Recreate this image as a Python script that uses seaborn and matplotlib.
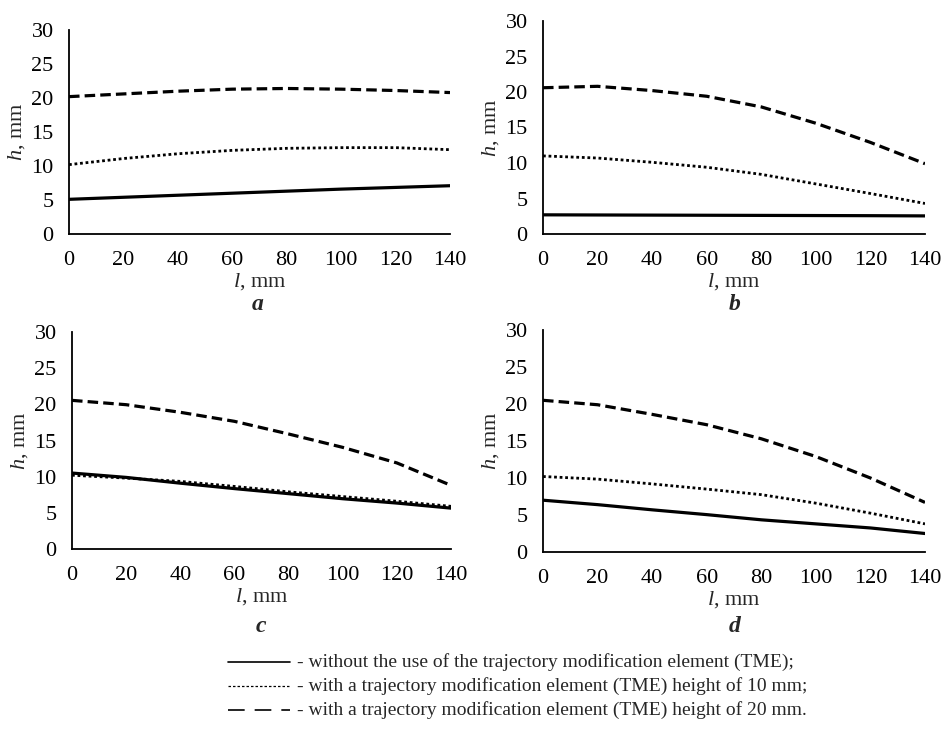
import matplotlib
matplotlib.use("Agg")
import matplotlib.pyplot as plt
from matplotlib.lines import Line2D
import pandas as pd
import seaborn as sns

# Datos (l en mm, h en mm)
l_mm = [0, 20, 40, 60, 80, 100, 120, 140]

a_sin_tme = [5.1, 5.4, 5.7, 6.0, 6.3, 6.6, 6.85, 7.1]
a_tme_10 = [10.2, 11.1, 11.8, 12.3, 12.6, 12.7, 12.7, 12.4]
a_tme_20 = [20.2, 20.6, 21.0, 21.3, 21.4, 21.3, 21.1, 20.8]

b_sin_tme = [2.7, 2.68, 2.66, 2.64, 2.62, 2.6, 2.58, 2.55]
b_tme_10 = [11.0, 10.7, 10.1, 9.4, 8.4, 7.05, 5.7, 4.3]
b_tme_20 = [20.6, 20.8, 20.2, 19.4, 17.9, 15.6, 12.9, 9.9]

c_sin_tme = [10.5, 9.9, 9.1, 8.35, 7.65, 6.95, 6.35, 5.65]
c_tme_10 = [10.2, 9.8, 9.35, 8.65, 7.9, 7.25, 6.6, 5.9]
c_tme_20 = [20.55, 19.95, 18.9, 17.65, 15.9, 14.05, 11.9, 8.8]

d_sin_tme = [7.0, 6.4, 5.7, 5.05, 4.35, 3.8, 3.25, 2.5]
d_tme_10 = [10.2, 9.85, 9.2, 8.5, 7.75, 6.6, 5.25, 3.8]
d_tme_20 = [20.5, 19.9, 18.6, 17.2, 15.3, 12.9, 10.0, 6.7]

paneles = ["a", "b", "c", "d"]
series = {
    "a": (a_sin_tme, a_tme_10, a_tme_20),
    "b": (b_sin_tme, b_tme_10, b_tme_20),
    "c": (c_sin_tme, c_tme_10, c_tme_20),
    "d": (d_sin_tme, d_tme_10, d_tme_20),
}

leyenda = [
    "- without the use of the trajectory modification element (TME);",
    "- with a trajectory modification element (TME) height of 10 mm;",
    "- with a trajectory modification element (TME) height of 20 mm.",
]

sns.set_style("white")
plt.rcParams["font.family"] = ["Liberation Serif", "DejaVu Serif"]
plt.rcParams["mathtext.fontset"] = "custom"
plt.rcParams["mathtext.rm"] = "Liberation Serif"
plt.rcParams["mathtext.it"] = "Liberation Serif:italic"
plt.rcParams["mathtext.bf"] = "Liberation Serif:bold:italic"

W, H = 941, 731
fig = plt.figure(figsize=(W / 100, H / 100), dpi=100)

# cajas de los ejes en pixeles: izquierda, derecha, arriba, abajo
cajas = {
    "a": (69, 450, 30, 234),
    "b": (543, 925, 21, 234),
    "c": (72, 451, 332, 549),
    "d": (543, 925, 330, 552),
}
# posicion de la letra de cada panel (pixeles)
letras = {"a": (258, 305), "b": (735, 305), "c": (261, 626), "d": (735, 627)}

estilos = [
    dict(lw=2.3, ls="-"),
    dict(lw=2.0, dashes=(1, 1.0)),
    dict(lw=2.3, dashes=(3.3, 1.6)),
]

for p in paneles:
    x0, x1, y0, y1 = cajas[p]
    ax = fig.add_axes([x0 / W, 1 - y1 / H, (x1 - x0) / W, (y1 - y0) / H])
    for valores, est in zip(series[p], estilos):
        df = pd.DataFrame({"l": l_mm, "h": valores})
        sns.lineplot(data=df, x="l", y="h", ax=ax, color="black", **est)
    ax.set_xlim(0, 140)
    ax.set_ylim(0, 30)
    ax.set_xticks(range(0, 141, 20))
    ax.set_yticks(range(0, 31, 5))
    sns.despine(ax=ax)
    for s in ("left", "bottom"):
        ax.spines[s].set_linewidth(1.3)
        ax.spines[s].set_color("black")
    ax.tick_params(direction="in", length=4, width=1.3, labelsize=16, colors="black")
    ax.tick_params(axis="x", pad=12)
    ax.tick_params(axis="y", pad=11)
    ax.set_xlabel(r"$\mathit{l}$, mm", fontsize=16, labelpad=1)
    ax.set_ylabel(r"$\mathit{h}$, mm", fontsize=16, labelpad=3)
    lx, ly = letras[p]
    fig.text(lx / W, 1 - ly / H, p, ha="center", va="center",
             fontsize=17, fontweight="bold", fontstyle="italic")

# leyenda dibujada a mano debajo de los paneles
muestras = [
    dict(lw=1.2, ls="-"),
    dict(lw=0.9, dashes=(2, 1.6)),
    dict(lw=1.2, dashes=(10, 6)),
]
filas_y = [662, 686, 710]
for texto, est, yy in zip(leyenda, muestras, filas_y):
    fig.add_artist(Line2D([228 / W, 290 / W], [1 - yy / H, 1 - yy / H],
                          transform=fig.transFigure, color="black", **est))
    fig.text(297 / W, 1 - yy / H, texto, ha="left", va="center", fontsize=14)

fig.savefig("out.png", dpi=100)
